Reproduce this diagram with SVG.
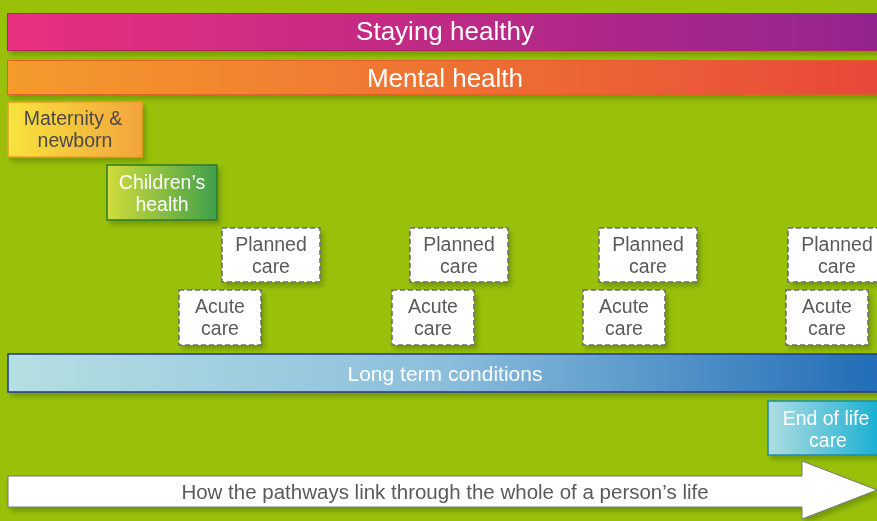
<svg xmlns="http://www.w3.org/2000/svg" width="877" height="521" viewBox="0 0 877 521">
<defs>
<style>
text{font-family:"Liberation Sans","Open Sans",Arial,sans-serif;text-anchor:middle}
.w{fill:#ffffff}
.g{fill:#5a5a5a}
.dash{fill:#ffffff;stroke:#6e6e6e;stroke-width:1.6;stroke-dasharray:5 3}
.bx{font-size:19.5px}
</style>
<linearGradient id="gStay" x1="0" x2="1"><stop offset="0" stop-color="#e9307e"/><stop offset="1" stop-color="#92248e"/></linearGradient>
<linearGradient id="gMent" x1="0" x2="1"><stop offset="0" stop-color="#f49b2c"/><stop offset="1" stop-color="#e8483a"/></linearGradient>
<linearGradient id="gMat" x1="0" x2="1"><stop offset="0" stop-color="#f7e43e"/><stop offset="1" stop-color="#f2a43e"/></linearGradient>
<linearGradient id="gChild" x1="0" x2="1"><stop offset="0" stop-color="#d2dc3a"/><stop offset="1" stop-color="#3fa04a"/></linearGradient>
<linearGradient id="gLong" x1="0" x2="1"><stop offset="0" stop-color="#b4e0e2"/><stop offset="0.5" stop-color="#8cbedc"/><stop offset="1" stop-color="#1f6cb6"/></linearGradient>
<linearGradient id="gEnd" x1="0" x2="1"><stop offset="0" stop-color="#b0dde2"/><stop offset="1" stop-color="#14aed2"/></linearGradient>
<filter id="sh" x="-10%" y="-20%" width="130%" height="160%"><feDropShadow dx="3" dy="4" stdDeviation="2.5" flood-color="#4a6a00" flood-opacity="0.45"/></filter>
</defs>
<rect width="877" height="521" fill="#99c10a"/>
<g id="staying-healthy" filter="url(#sh)">
<rect x="7.5" y="13.5" width="875" height="37" fill="url(#gStay)" stroke="#b02060" stroke-width="1"/>
<text x="445" y="40" class="w" font-size="26">Staying healthy</text>
</g>
<g id="mental-health" filter="url(#sh)">
<rect x="7.5" y="60.5" width="875" height="34" fill="url(#gMent)" stroke="#e0602a" stroke-width="1"/>
<text x="445" y="86.5" class="w" font-size="26">Mental health</text>
</g>
<g id="maternity" filter="url(#sh)">
<rect x="8" y="102" width="134" height="55" fill="url(#gMat)" stroke="#ef9a2a" stroke-width="1.5"/>
<text x="73" y="125" class="bx" fill="#4a4a4a">Maternity &amp;</text>
<text x="75" y="147" class="bx" fill="#4a4a4a">newborn</text>
</g>
<g id="childrens-health" filter="url(#sh)">
<rect x="107" y="165" width="110" height="55" fill="url(#gChild)" stroke="#2a7a30" stroke-width="1.5"/>
<text x="162" y="189" class="w bx">Children’s</text>
<text x="162" y="211" class="w bx">health</text>
</g>
<g id="planned-1" filter="url(#sh)">
<rect x="222" y="228" width="98" height="54" class="dash"/>
<text x="271" y="251" class="g bx">Planned</text>
<text x="271" y="273" class="g bx">care</text>
</g>
<g id="planned-2" filter="url(#sh)">
<rect x="410" y="228" width="98" height="54" class="dash"/>
<text x="459" y="251" class="g bx">Planned</text>
<text x="459" y="273" class="g bx">care</text>
</g>
<g id="planned-3" filter="url(#sh)">
<rect x="599" y="228" width="98" height="54" class="dash"/>
<text x="648" y="251" class="g bx">Planned</text>
<text x="648" y="273" class="g bx">care</text>
</g>
<g id="planned-4" filter="url(#sh)">
<rect x="788" y="228" width="98" height="54" class="dash"/>
<text x="837" y="251" class="g bx">Planned</text>
<text x="837" y="273" class="g bx">care</text>
</g>
<g id="acute-1" filter="url(#sh)">
<rect x="179" y="290" width="82" height="55" class="dash"/>
<text x="220" y="313" class="g bx">Acute</text>
<text x="220" y="335" class="g bx">care</text>
</g>
<g id="acute-2" filter="url(#sh)">
<rect x="392" y="290" width="82" height="55" class="dash"/>
<text x="433" y="313" class="g bx">Acute</text>
<text x="433" y="335" class="g bx">care</text>
</g>
<g id="acute-3" filter="url(#sh)">
<rect x="583" y="290" width="82" height="55" class="dash"/>
<text x="624" y="313" class="g bx">Acute</text>
<text x="624" y="335" class="g bx">care</text>
</g>
<g id="acute-4" filter="url(#sh)">
<rect x="786" y="290" width="82" height="55" class="dash"/>
<text x="827" y="313" class="g bx">Acute</text>
<text x="827" y="335" class="g bx">care</text>
</g>
<g id="long-term-conditions" filter="url(#sh)">
<rect x="8" y="354" width="875" height="38" fill="url(#gLong)" stroke="#2a3f8c" stroke-width="1.6"/>
<text x="445" y="381" class="w" font-size="21">Long term conditions</text>
</g>
<g id="end-of-life" filter="url(#sh)">
<rect x="768" y="401" width="115" height="54" fill="url(#gEnd)" stroke="#1a8cb0" stroke-width="1.5"/>
<text x="826" y="425" class="w bx">End of life</text>
<text x="828" y="447" class="w bx">care</text>
</g>
<g id="connectors">
<g id="life-arrow" filter="url(#sh)">
<path d="M8,476 H802 V461 L877,490 L802,519 V507 H8 Z" fill="#ffffff" stroke="#777777" stroke-width="1"/>
<text x="445" y="499" class="g" font-size="20.5">How the pathways link through the whole of a person’s life</text>
</g>
</g>
</svg>
